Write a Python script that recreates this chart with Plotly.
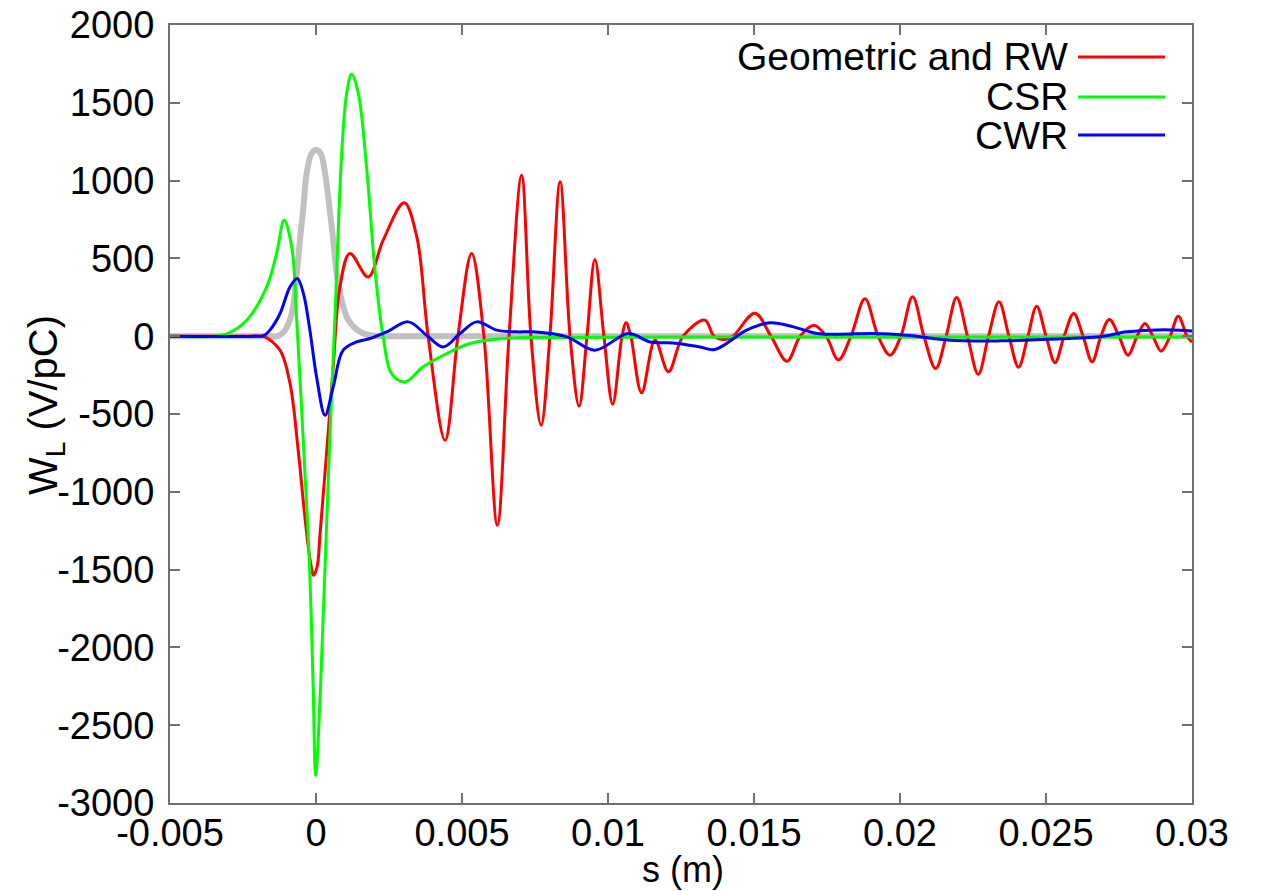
import plotly.graph_objects as go

# ---- data ----
bunch_s = [-0.005, -0.0016, -0.00129, -0.00106, -0.00083, -0.00066, -0.00055, -0.00043, -0.00032,
           -0.00015, 0.0, 0.00016, 0.00031, 0.00046, 0.00059, 0.00071, 0.00088, 0.00111, 0.00151,
           0.00185, 0.003, 0.03]
bunch_w = [0, 0, 2, 39, 146, 403, 617, 831, 1046, 1175, 1196, 1175, 1046, 831, 617, 403, 231, 103,
           28, 6, 0, 0]

geo_s = [-0.005, -0.0025, -0.0019, -0.00175, -0.00123, -0.00089, -0.00061, -0.00038, -0.00020,
         -0.00008, 0.00004, 0.00014, 0.00037, 0.00059, 0.00082, 0.00116, 0.00179, 0.00230, 0.00302,
         0.00345, 0.00384,
         0.00442, 0.00486, 0.00533, 0.00575, 0.00621, 0.00661, 0.00704, 0.00736, 0.00771, 0.00801,
         0.00836, 0.00870, 0.00901, 0.00928, 0.00955, 0.00986, 0.01016, 0.01048, 0.01062, 0.01078,
         0.01115, 0.01161, 0.01207, 0.01257, 0.01332, 0.01363, 0.01397, 0.01428, 0.01503, 0.01558,
         0.01613, 0.01658, 0.01705, 0.01747, 0.01789, 0.01832, 0.01880, 0.01925, 0.01966, 0.02003,
         0.02043, 0.02082, 0.02122, 0.02158, 0.02194, 0.02231, 0.02268, 0.02303, 0.02339, 0.02373,
         0.02406, 0.02438, 0.02468, 0.02500, 0.02531, 0.02562, 0.02595, 0.02627, 0.02658, 0.02688,
         0.02717, 0.02750, 0.02781, 0.02812, 0.02839, 0.02866, 0.02894, 0.02925, 0.02953, 0.02983,
         0.03]
geo_w = [0, 0, 0, -4, -90, -304, -733, -1162, -1440,
         -1537, -1480, -1267, -733, -197, 317, 532, 381, 617, 857,
         640, 0,
         -669, 0, 532, 0, -1215, 0, 1035, 0, -572, 0,
         992, 0, -450, 0, 493, 0, -437, 0, 86, 0,
         -364, -26, -229, 0, 103, 0, -21, 0, 148, 0,
         -161, 0, 71, 0, -152, 0, 240, 0, -122, 0,
         253, 0, -208, 0, 249, 0, -244, 0, 221, 0,
         -199, 0, 193, 0, -170, 0, 146, 0, -165, 0,
         107, 0, -122, 0, 82, 0, -96, 0, 129, 0,
         -39]

csr_s = [-0.005, -0.0035, -0.00306, -0.00237, -0.00169, -0.00135, -0.00109, -0.00083, -0.00066,
         -0.00039, -0.00022, -0.00010, -0.00001, 0.00016, 0.00031, 0.00048, 0.00065, 0.00088,
         0.00105, 0.00122, 0.00145, 0.00174, 0.00202, 0.00230, 0.00259, 0.00305, 0.00367, 0.00448,
         0.00527, 0.00641, 0.008, 0.012, 0.02, 0.03]
csr_w = [0, 0, 15, 103, 317, 532, 746, 574, 103,
         -840, -1483, -2233, -2823, -2233, -1483, -626, 124, 1175,
         1560, 1685, 1560, 1067, 424, -4, -240, -294, -197, -111,
         -47, -15, -8, -5, -5, -5]

cwr_s = [-0.005, -0.002, -0.00180, -0.00158, -0.00123, -0.00089, -0.00064, -0.00043, -0.00021,
         0.00002, 0.00031, 0.00059, 0.00093, 0.00139, 0.00185, 0.00242, 0.00316, 0.00379, 0.00436,
         0.00493, 0.00550, 0.00619, 0.00687, 0.00744, 0.00859, 0.00955, 0.01070, 0.01144, 0.01224,
         0.01315, 0.01366, 0.01475, 0.01555, 0.01635, 0.01715, 0.01795, 0.01909, 0.02023, 0.02171,
         0.02342, 0.02500, 0.02685, 0.02776, 0.02856, 0.02959, 0.03]
cwr_w = [0, 0, 3, 39, 146, 317, 371, 274, 39,
         -262, -508, -326, -90, -37, -15, 28, 92, 6, -69,
         17, 92, 39, 28, 28, -4, -90, 17, -37, -43,
         -69, -86, 39, 86, 60, 17, 13, 17, 6, -26,
         -30, -20, -4, 28, 39, 39, 34]

x_ticks = [-0.005, 0, 0.005, 0.01, 0.015, 0.02, 0.025, 0.03]
x_labels = ["-0.005", "0", "0.005", "0.01", "0.015", "0.02", "0.025", "0.03"]
y_ticks = [2000, 1500, 1000, 500, 0, -500, -1000, -1500, -2000, -2500, -3000]
y_labels = ["2000", "1500", "1000", "500", "0", "-500", "-1000", "-1500", "-2000", "-2500", "-3000"]

x_title = "s (m)"
y_title = "W<sub>L</sub> (V/pC)"
series_names = ["Geometric and RW", "CSR", "CWR"]
series_colors = ["#ff0000", "#00ff00", "#0000ff"]

FONT = "Liberation Sans, Arial, Helvetica, sans-serif"

fig = go.Figure()
fig.add_trace(go.Scatter(x=bunch_s, y=bunch_w, mode="lines",
                         line=dict(color="#c0c0c0", width=6, shape="spline", smoothing=1.0),
                         showlegend=False, hoverinfo="skip"))
for xs, ys, name, col in [(geo_s, geo_w, series_names[0], series_colors[0]),
                          (csr_s, csr_w, series_names[1], series_colors[1]),
                          (cwr_s, cwr_w, series_names[2], series_colors[2])]:
    fig.add_trace(go.Scatter(x=xs, y=ys, mode="lines", name=name,
                             line=dict(color=col, width=3, shape="spline", smoothing=1.0),
                             showlegend=False))

# gnuplot-style legend: right-aligned text with the line sample to its right
leg_y = [0.9589, 0.9075, 0.8586]
for name, col, yy in zip(series_names, series_colors, leg_y):
    fig.add_annotation(x=0.8806, y=yy, xref="paper", yref="paper", text=name, showarrow=False,
                       xanchor="right", yanchor="middle", font=dict(size=39, color="black", family=FONT))
    fig.add_shape(type="line", xref="paper", yref="paper", x0=0.8885, x1=0.9736, y0=yy, y1=yy,
                  line=dict(color=col, width=3))

# axis titles placed like the gnuplot original
fig.add_annotation(x=0.502, y=-0.086, xref="paper", yref="paper", text=x_title, showarrow=False,
                   xanchor="center", yanchor="middle", font=dict(size=36, color="black", family=FONT))
fig.add_annotation(x=-0.122, y=0.512, xref="paper", yref="paper", text=y_title, showarrow=False,
                   textangle=-90, xanchor="center", yanchor="middle",
                   font=dict(size=40, color="black", family=FONT))

axis_common = dict(showgrid=False, zeroline=False, showline=True, linecolor="#707070", linewidth=2,
                   ticks="inside", ticklen=10, tickwidth=1.5, tickcolor="#707070", mirror="allticks",
                   automargin=False)

fig.update_xaxes(range=[-0.005, 0.03], tickmode="array", tickvals=x_ticks, ticktext=x_labels,
                 tickfont=dict(size=38, color="black", family=FONT),
                 ticklabelstandoff=-5, **axis_common)
fig.update_yaxes(range=[-3000, 2000], tickmode="array", tickvals=y_ticks, ticktext=y_labels,
                 tickfont=dict(size=38, color="black", family=FONT),
                 ticklabelstandoff=6, **axis_common)

fig.update_layout(width=1261, height=891, margin=dict(l=170, r=69, t=25, b=88),
                  plot_bgcolor="white", paper_bgcolor="white", showlegend=False)

fig.write_html("out.html")
